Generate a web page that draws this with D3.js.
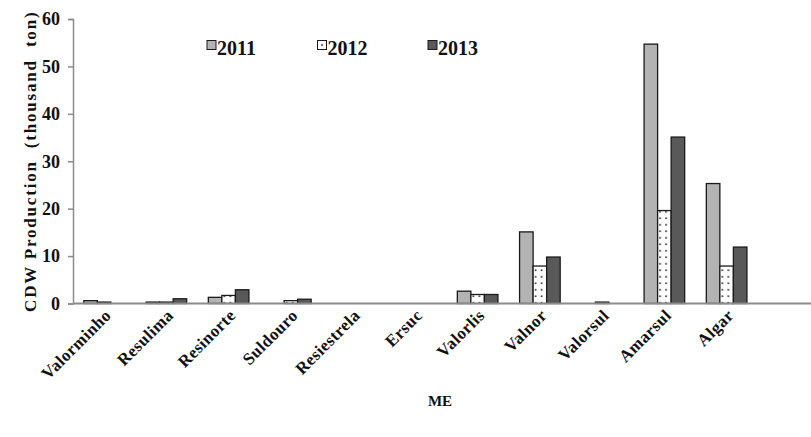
<!DOCTYPE html>
<html>
<head>
<meta charset="utf-8">
<script src="https://cdn.jsdelivr.net/npm/d3@7"></script>
<style>
  body { margin: 0; background: #fff; }
  text { font-family: "Liberation Serif", "Times New Roman", serif; font-weight: bold; fill: #111; }
</style>
</head>
<body>
<div id="chart"></div>
<script>
// chart values
const categories = ['Valorminho', 'Resulima', 'Resinorte', 'Suldouro', 'Resiestrela', 'Ersuc',
  'Valorlis', 'Valnor', 'Valorsul', 'Amarsul', 'Algar']
const years = ['2011', '2012', '2013']
const v2011 = [0.6, 0.3, 1.3, 0, 0, 0, 2.6, 15.1, 0, 54.7, 25.3]
const v2012 = [0.3, 0.3, 1.7, 0.6, 0, 0, 1.9, 7.9, 0.3, 19.6, 7.9]
const v2013 = [0, 1.0, 2.9, 0.9, 0, 0, 1.9, 9.8, 0, 35.1, 11.9]
const yTicks = [0, 10, 20, 30, 40, 50, 60]

const width = 811,
  height = 437,
  marginLeft = 73,
  plotTop = 19,
  plotBottom = 303.5,
  bandW = 62.25

const series = [v2011, v2012, v2013]
const fills = ['#b3b3b3', 'url(#dots)', '#595959']

let svg = d3.select('#chart')
  .append('svg')
  .attr('width', width)
  .attr('height', height)

// dotted pattern for 2012
let pat = svg.append('defs').append('pattern')
  .attr('id', 'dots')
  .attr('patternUnits', 'userSpaceOnUse')
  .attr('width', 6)
  .attr('height', 6.5)
pat.append('rect').attr('width', 6).attr('height', 6.5).attr('fill', '#fff')
pat.append('rect').attr('x', 2).attr('y', 3).attr('width', 1.6).attr('height', 1.6).attr('fill', '#222')

let x0 = d3.scaleBand()
  .domain(categories)
  .range([marginLeft, marginLeft + bandW * categories.length])

let x1 = d3.scaleBand()
  .domain(years)
  .range([0, x0.bandwidth()])
  .paddingOuter(0.8)

let y = d3.scaleLinear()
  .domain([0, 60])
  .range([plotBottom, plotTop])

// bars
let groups = svg.selectAll('g.cat')
  .data(categories)
  .enter()
  .append('g')
  .attr('class', 'cat')
  .attr('transform', d => `translate(${x0(d)},0)`)

groups.selectAll('rect')
  .data((d, i) => years.map((yr, j) => ({ yr: yr, v: series[j][i], j: j })))
  .enter()
  .filter(d => d.v > 0)
  .append('rect')
  .attr('x', d => x1(d.yr))
  .attr('y', d => y(d.v))
  .attr('width', x1.bandwidth())
  .attr('height', d => y(0) - y(d.v))
  .attr('fill', d => fills[d.j])
  .attr('stroke', '#1a1a1a')
  .attr('stroke-width', 1.3)

// y axis
let yAxis = svg.append('g')
  .attr('transform', `translate(${marginLeft},0)`)
  .call(d3.axisLeft(y).tickValues(yTicks).tickSize(5).tickPadding(8))
yAxis.select('.domain').attr('stroke', '#8c8c8c').attr('stroke-width', 1.5)
yAxis.selectAll('.tick line').attr('stroke', '#8c8c8c').attr('stroke-width', 1.5)
yAxis.selectAll('.tick text')
  .style('font-family', '"Liberation Serif", serif')
  .style('font-weight', 'bold')
  .style('font-size', '18px')
  .attr('fill', '#111')

// x axis line to the right edge
svg.append('line')
  .attr('x1', marginLeft)
  .attr('x2', width)
  .attr('y1', y(0))
  .attr('y2', y(0))
  .attr('stroke', '#8c8c8c')
  .attr('stroke-width', 1.8)

// category labels
svg.selectAll('text.cat')
  .data(categories)
  .enter()
  .append('text')
  .attr('class', 'cat')
  .attr('text-anchor', 'end')
  .attr('transform', d => `translate(${x0(d) + x0.bandwidth() / 2 + 8},${plotBottom + 13}) rotate(-45)`)
  .style('font-size', '17px')
  .style('letter-spacing', '0.4px')
  .text(d => d)

// axis titles
svg.append('text')
  .attr('text-anchor', 'middle')
  .attr('transform', `translate(36,${(plotTop + plotBottom) / 2}) rotate(-90)`)
  .style('font-size', '17px')
  .style('letter-spacing', '1.8px')
  .attr('xml:space', 'preserve')
  .text('CDW Production  (thousand  ton)')

svg.append('text')
  .attr('x', 440)
  .attr('y', 406)
  .attr('text-anchor', 'middle')
  .style('font-size', '15px')
  .text('ME')

// legend
let legend = svg.selectAll('g.leg')
  .data(years)
  .enter()
  .append('g')
  .attr('class', 'leg')
  .attr('transform', (d, i) => `translate(${207 + i * 110.5},40.5)`)

legend.append('rect')
  .attr('width', 9)
  .attr('height', 9)
  .attr('fill', (d, i) => i === 1 ? '#fff' : fills[i])
  .attr('stroke', '#1a1a1a')
  .attr('stroke-width', 1)
legend.filter((d, i) => i === 1).append('rect')
  .attr('x', 3.7).attr('y', 3.7).attr('width', 1.6).attr('height', 1.6).attr('fill', '#222')

legend.append('text')
  .attr('x', 10)
  .attr('y', 14)
  .style('font-size', '20px')
  .text(d => d)
</script>
</body>
</html>
